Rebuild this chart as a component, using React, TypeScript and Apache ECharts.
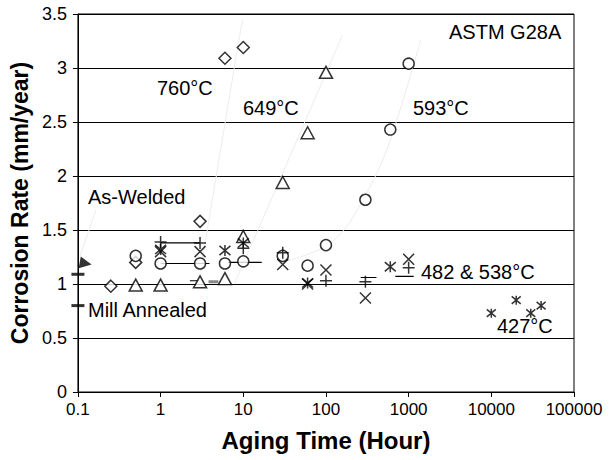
import React, { useEffect, useRef } from "react";
import * as echarts from "echarts";

const FONT = '"Liberation Sans", Arial, sans-serif';

const xTickLabels = ["0.1", "1", "10", "100", "1000", "10000", "100000"];

// 760°C (diamonds)
const d760X = [0.25, 0.5, 3, 6, 10];
const d760Y = [0.98, 1.2, 1.58, 3.09, 3.19];
// 649°C (triangles)
const t649X = [0.5, 1, 3, 6, 10, 30, 60, 100];
const t649Y = [0.99, 0.99, 1.02, 1.05, 1.44, 1.94, 2.4, 2.96];
// 593°C (circles)
const c593X = [0.5, 1, 3, 6, 10, 30, 60, 100, 300, 600, 1000];
const c593Y = [1.26, 1.19, 1.19, 1.19, 1.21, 1.26, 1.17, 1.36, 1.78, 2.43, 3.04];
// 482 & 538°C (x, star, plus)
const xMarkX = [1, 3, 30, 60, 100, 300, 1000];
const xMarkY = [1.3, 1.3, 1.18, 1.0, 1.13, 0.87, 1.23];
const starX = [1, 6, 10, 60, 600];
const starY = [1.32, 1.31, 1.38, 1.01, 1.16];
const plusX = [1, 3, 10, 30, 100, 300, 1000];
const plusY = [1.39, 1.38, 1.33, 1.29, 1.03, 1.02, 1.15];
// 427°C (small asterisks)
const a427X = [10000, 20000, 30000, 40000];
const a427Y = [0.73, 0.85, 0.73, 0.8];

// reference marks on the y axis
const millAnnealedY = [1.09, 0.8];
const asWeldedY = [1.19];

// horizontal range bars: [xStart, xEnd, y]
const rangeBars: [number, number, number][] = [
  [1, 3, 1.38],
  [1, 3.9, 1.19],
  [6.5, 16.7, 1.2],
  [2.26, 2.9, 1.03],
  [263, 408, 1.06],
  [690, 1150, 1.07],
];
const grayBars: [number, number, number][] = [[3.8, 5.0, 1.02]];

// faint trend lines
const trend760X = [3.0, 3.9, 7.7, 9.8];
const trend760Y = [1.1, 1.62, 2.98, 3.45];
const trend649X = [7.8, 17.6, 96, 157];
const trend649Y = [1.0, 1.62, 2.92, 3.3];
const trend593X = [30, 100, 201, 524, 1400];
const trend593Y = [1.2, 1.35, 1.59, 2.21, 3.26];

const zip = (xs: number[], ys: number[]) => xs.map((x, i) => [x, ys[i]]);

const P_X = "path://M0 0L10 10M10 0L0 10";
const P_PLUS = "path://M5 0L5 10M0 5L10 5";
const P_STAR = "path://M0 0L10 10M10 0L0 10M5 -1L5 11";

export default function App() {
  const ref = useRef<HTMLDivElement>(null);
  useEffect(() => {
    if (!ref.current) return;
    document.body.style.margin = "0";
    const chart = echarts.init(ref.current, undefined, { renderer: "svg" });
    const hollow = { color: "#fff", borderColor: "#000", borderWidth: 1.5 };
    const strokeOnly = { color: "#fff", borderColor: "#000", borderWidth: 1.5 };
    const series: any[] = [];
    const trend = (xs: number[], ys: number[]) => ({
      type: "line",
      data: zip(xs, ys),
      symbol: "none",
      smooth: 0.3,
      lineStyle: { color: "#ececec", width: 1 },
      z: 1,
      silent: true,
    });
    series.push(trend(trend760X, trend760Y));
    series.push(trend(trend649X, trend649Y));
    series.push(trend(trend593X, trend593Y));
    rangeBars.forEach((b) =>
      series.push({
        type: "line",
        data: [
          [b[0], b[2]],
          [b[1], b[2]],
        ],
        symbol: "none",
        lineStyle: { color: "#000", width: 1.2 },
        z: 2,
      })
    );
    grayBars.forEach((b) =>
      series.push({
        type: "line",
        data: [
          [b[0], b[2]],
          [b[1], b[2]],
        ],
        symbol: "none",
        lineStyle: { color: "#888", width: 3 },
        z: 2,
      })
    );
    const scatter = (xs: number[], ys: number[], symbol: string, size: any, style: any) => ({
      type: "scatter",
      data: zip(xs, ys),
      symbol,
      symbolSize: size,
      itemStyle: style,
      z: 3,
      clip: false,
    });
    series.push(scatter(d760X, d760Y, "diamond", 12, hollow));
    series.push(scatter(t649X, t649Y, "triangle", [13, 12], hollow));
    series.push(scatter(c593X, c593Y, "circle", 11, hollow));
    series.push(scatter(xMarkX, xMarkY, P_X, 11, strokeOnly));
    series.push(scatter(starX, starY, P_STAR, 11, strokeOnly));
    series.push(scatter(plusX, plusY, P_PLUS, 12, strokeOnly));
    series.push(scatter(a427X, a427Y, P_STAR, 9, strokeOnly));
    series.push({
      type: "scatter",
      data: millAnnealedY.map((y) => [0.1, y]),
      symbol: "rect",
      symbolSize: [13, 3],
      itemStyle: { color: "#000" },
      clip: false,
      z: 4,
    });
    series.push({
      type: "scatter",
      data: asWeldedY.map((y) => [0.124, y]),
      symbol: "triangle",
      symbolRotate: -100,
      symbolSize: [12, 12],
      itemStyle: { color: "#000" },
      clip: false,
      z: 4,
    });

    const txt = (text: string, x: number, y: number) => ({
      type: "text",
      x,
      y,
      style: { text, font: `20px ${FONT}`, fill: "#000", align: "left", verticalAlign: "middle" },
      z: 10,
    });

    chart.setOption({
      animation: false,
      textStyle: { fontFamily: FONT },
      grid: {
        left: 69,
        right: 36,
        top: 14,
        bottom: 68,
        show: true,
        borderColor: "#000",
        borderWidth: 1,
        backgroundColor: "transparent",
      },
      xAxis: {
        type: "log",
        logBase: 10,
        min: 0.1,
        max: 100000,
        name: "Aging Time (Hour)",
        nameLocation: "middle",
        nameGap: 36,
        nameTextStyle: { fontSize: 24, fontWeight: "bold", color: "#000", fontFamily: FONT },
        axisLine: { show: true, lineStyle: { color: "#000", width: 1 } },
        axisTick: { show: true, inside: false, length: 5, lineStyle: { color: "#000" } },
        minorTick: { show: false },
        splitLine: { show: false },
        axisLabel: {
          color: "#000",
          fontSize: 17,
          fontFamily: FONT,
          margin: 9,
          formatter: (v: number) => xTickLabels[Math.round(Math.log10(v)) + 1] ?? "",
        },
      },
      yAxis: {
        type: "value",
        min: 0,
        max: 3.5,
        interval: 0.5,
        name: "Corrosion Rate (mm/year)",
        nameLocation: "middle",
        nameGap: 38,
        nameTextStyle: { fontSize: 23, fontWeight: "bold", color: "#000", fontFamily: FONT },
        axisLine: { show: true, lineStyle: { color: "#000", width: 1 } },
        axisTick: { show: true, inside: false, length: 5, lineStyle: { color: "#000" } },
        splitLine: { show: true, lineStyle: { color: "#000", width: 1 } },
        axisLabel: { color: "#000", fontSize: 18, fontFamily: FONT, margin: 11 },
      },
      graphic: [
        txt("760°C", 157, 88),
        txt("649°C", 243, 108),
        txt("593°C", 413, 108),
        txt("ASTM G28A", 449, 32),
        txt("As-Welded", 88, 197),
        txt("Mill Annealed", 88, 310),
        txt("482 & 538°C", 421, 272),
        txt("427°C", 497, 326),
        {
          type: "line",
          shape: { x1: 96, y1: 210, x2: 80, y2: 256 },
          style: { stroke: "#ececec", lineWidth: 1 },
          z: 1,
        },
      ],
      series,
    });
    return () => chart.dispose();
  }, []);
  return <div ref={ref} style={{ width: 610, height: 460 }} />;
}
